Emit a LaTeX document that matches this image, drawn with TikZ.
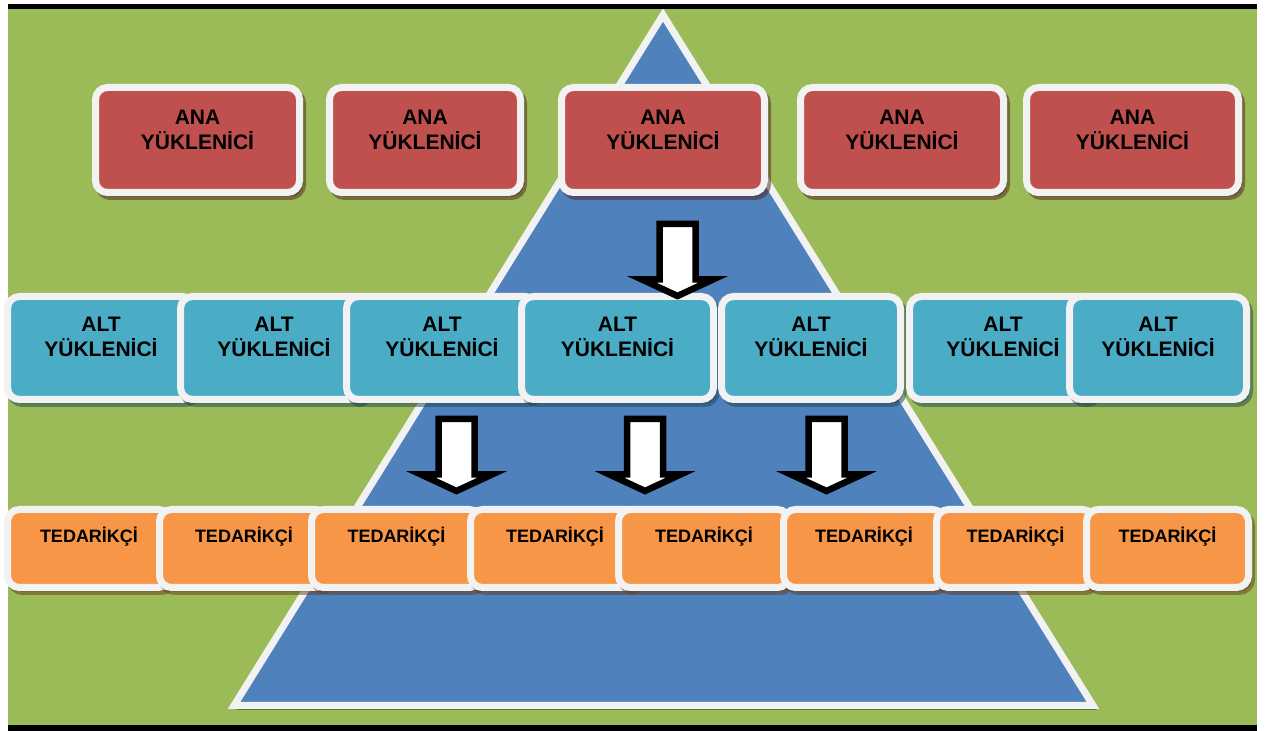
\documentclass[tikz,border=0pt]{standalone}
\usepackage{fontspec}
\setmainfont{Liberation Sans}
\definecolor{field}{HTML}{9BBB59}
\definecolor{triblue}{HTML}{4F81BD}
\definecolor{anared}{HTML}{C0504D}
\definecolor{altteal}{HTML}{4BACC6}
\definecolor{tedorange}{HTML}{F79646}
\definecolor{edge}{HTML}{F2F2F2}
\tikzset{
  tile/.style={rectangle, rounded corners=6pt, draw=edge, line width=3.5pt,
    fill=#1, inner sep=0pt, outer sep=0pt,
    preaction={draw=#1!40!black, fill=#1!40!black, opacity=.5,
      transform canvas={xshift=1.5pt, yshift=-2pt}}},
  ana/.style={tile=anared, minimum height=52.5pt},
  alt/.style={tile=altteal, minimum height=51.5pt},
  ted/.style={tile=tedorange, minimum height=39pt},
  bigtext/.style={anchor=north, inner sep=0pt, align=center,
    font=\bfseries\fontsize{10.5pt}{12.5pt}\selectfont},
  smalltext/.style={anchor=base, inner sep=0pt,
    font=\bfseries\fontsize{9pt}{11pt}\selectfont},
  blockarrow/.style={draw=black, fill=white, line width=3.25pt, line join=miter},
  downarrow/.pic={\draw[blockarrow] (-18,4) -- (18,4) -- (18,59.5) -- (35.5,59.5)
    -- (0,76) -- (-35.5,59.5) -- (-18,59.5) -- cycle;}
}
\begin{document}
\begin{tikzpicture}[x=0.5pt, y=-0.5pt]
  \useasboundingbox (0,0) rectangle (1266,731);
  \fill[white] (0,0) rectangle (1266,731);
  \fill[field] (8,9) rectangle (1257,725);

  % pyramid
  \draw[draw=edge, fill=triblue, line width=3.5pt, line join=miter,
    preaction={draw=black, fill=black, opacity=.3,
      transform canvas={xshift=1.5pt, yshift=-2pt}}]
    (663,15) -- (1093,705.5) -- (234,705.5) -- cycle;

  % frame lines
  \fill[black] (8,4) rectangle (1257,9);
  \fill[black] (8,725) rectangle (1257,731);

  % main contractors
  \node[ana, minimum width=102pt]   (ana1) at (197.5,140) {};
  \node[ana, minimum width=95.5pt]  (ana2) at (425,140) {};
  \node[ana, minimum width=101.5pt] (ana3) at (663,140) {};
  \node[ana, minimum width=101.5pt] (ana4) at (902,140) {};
  \node[ana, minimum width=106pt]   (ana5) at (1132.5,140) {};
  \foreach \i in {1,...,5}
    \node[bigtext] (ana\i t) at ([yshift=-11.25pt]ana\i.north) {ANA\\YÜKLENİCİ};

  % subcontractors
  \node[alt, minimum width=93.5pt] (alt1) at (101,348) {};
  \node[alt, minimum width=93.5pt] (alt2) at (274,348) {};
  \node[alt, minimum width=95.5pt] (alt3) at (442,348) {};
  \node[alt, minimum width=96pt]   (alt4) at (617.5,348) {};
  \node[alt, minimum width=89.5pt] (alt5) at (811,348) {};
  \node[alt, minimum width=93.5pt] (alt6) at (1003,348) {};
  \node[alt, minimum width=88.5pt] (alt7) at (1158,348) {};
  \foreach \i in {1,...,7}
    \node[bigtext] (alt\i t) at ([yshift=-10.25pt]alt\i.north) {ALT\\YÜKLENİCİ};

  % suppliers
  \node[ted, minimum width=81.5pt] (ted1) at (89,548.5) {};
  \node[ted, minimum width=84.5pt] (ted2) at (244,548.5) {};
  \node[ted, minimum width=85pt]   (ted3) at (396.5,548.5) {};
  \node[ted, minimum width=84.5pt] (ted4) at (555,548.5) {};
  \node[ted, minimum width=85.5pt] (ted5) at (704,548.5) {};
  \node[ted, minimum width=80.5pt] (ted6) at (864,548.5) {};
  \node[ted, minimum width=79pt]   (ted7) at (1015.5,548.5) {};
  \node[ted, minimum width=81pt]   (ted8) at (1167.5,548.5) {};
  \foreach \i in {1,...,8}
    \node[smalltext] (ted\i t) at ([yshift=-16.75pt]ted\i.north) {TEDARİKÇİ};

  % flow arrows
  \pic (flowA) at (677.5,220) {downarrow};
  \pic (flowB) at (456.5,415) {downarrow};
  \pic (flowC) at (645,415) {downarrow};
  \pic (flowD) at (826.5,415) {downarrow};
\end{tikzpicture}
\end{document}
